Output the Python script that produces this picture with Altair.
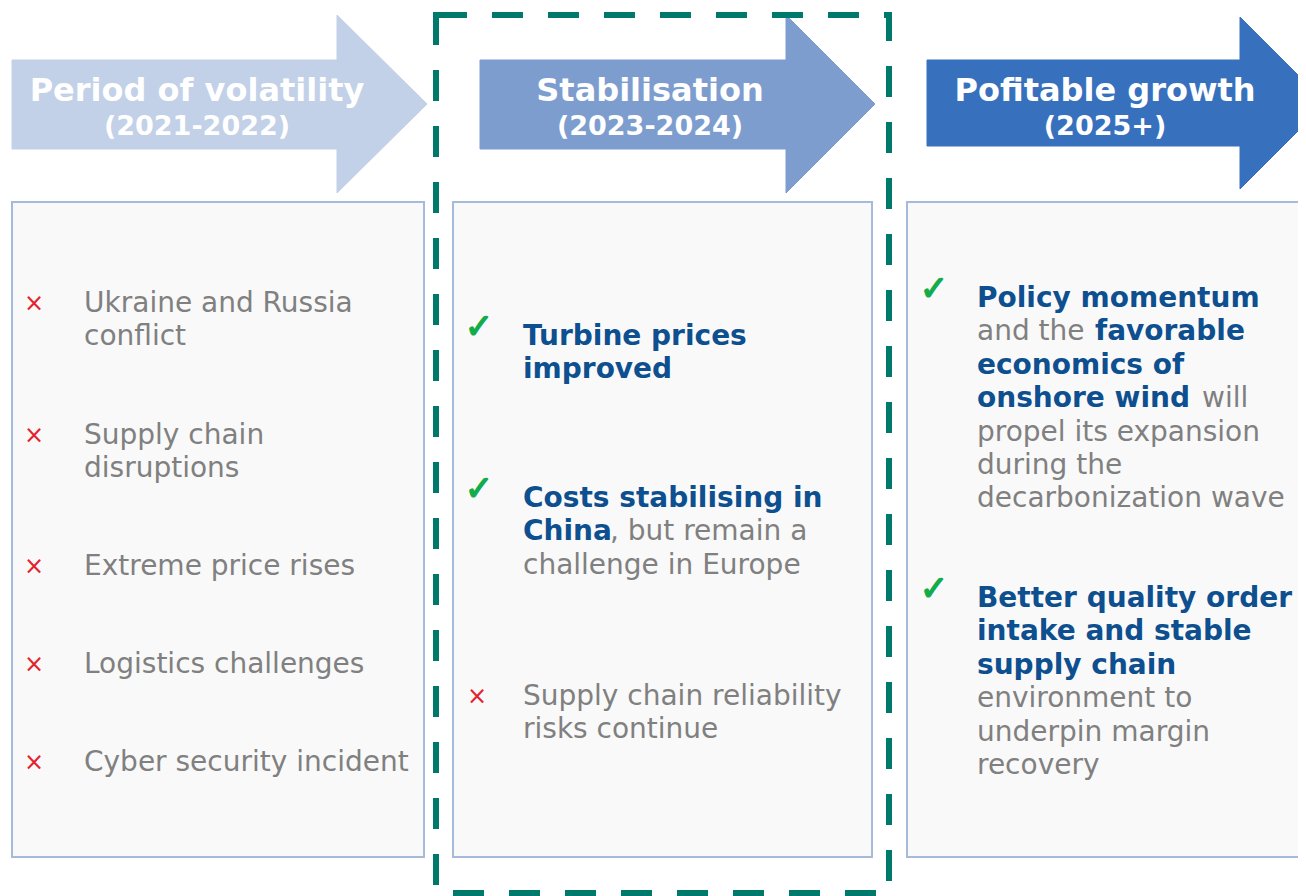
import altair as alt
import pandas as pd

# ---------------- content ----------------
phase_titles = ["Period of volatility", "Stabilisation", "Pofitable growth"]
phase_periods = ["(2021-2022)", "(2023-2024)", "(2025+)"]

# bullets per panel: (marker, lines); marker "x" = risk, "v" = positive
# each line is a list of (text, bold) segments
left_bullets = [
    ("x", [[("Ukraine and Russia", 0)], [("conflict", 0)]]),
    ("x", [[("Supply chain", 0)], [("disruptions", 0)]]),
    ("x", [[("Extreme price rises", 0)]]),
    ("x", [[("Logistics challenges", 0)]]),
    ("x", [[("Cyber security incident", 0)]]),
]
middle_bullets = [
    ("v", [[("Turbine prices", 1)], [("improved", 1)]]),
    ("v", [[("Costs stabilising in", 1)], [("China", 1), (", but remain a", 0)],
           [("challenge in Europe", 0)]]),
    ("x", [[("Supply chain reliability", 0)], [("risks continue", 0)]]),
]
right_bullets = [
    ("v", [[("Policy momentum", 1)], [("and the", 0), ("favorable", 1)],
           [("economics of", 1)], [("onshore wind", 1), ("will", 0)],
           [("propel its expansion", 0)], [("during the", 0)],
           [("decarbonization wave", 0)]]),
    ("v", [[("Better quality order", 1)], [("intake and stable", 1)],
           [("supply chain", 1)], [("environment to", 0)],
           [("underpin margin", 0)], [("recovery", 0)]]),
]
panels = [left_bullets, middle_bullets, right_bullets]

# ---------------- layout & style ----------------
W, H = 1290, 888
OFF = 8
arrow_colors = ["#c2d1e7", "#7d9dcf", "#3771be"]
# shaft_left, head_x, tip_x, shaft_top, shaft_bottom, head_top, head_bottom
arrow_geo = [
    (12, 337, 427, 60, 149, 15, 193),
    (480, 786, 875, 60, 149, 15, 193),
    (927, 1240, 1326, 60, 146, 17, 189),
]
title_x = [197, 650, 1105]
TITLE_Y, PERIOD_Y = 91, 127
box_x = [(12, 424), (453, 872), (907, 1330)]
BOX_Y = (202, 857)
dash_box = (436, 15, 889, 893)
marker_x = [34, 477, 932]
text_x = [84, 523, 977]
bullet_y = [[304, 436, 567, 665, 763], [337, 499, 697], [299, 599]]
LINE_H = 33.4
# x offset of a segment that follows another on the same line
seg_next_dx = {"China": 87, "and the": 118, "onshore wind": 225}
BLUE = "#0d4f8f"
GRAY = "#808080"
RED = "#e3222c"
GREEN = "#13ac4b"
BODY_SIZE = 28
FONT = "DejaVu Sans"

# ---------------- tables ----------------
arrow_dfs = []
for i, (l, hx, tx, st, sb, ht, hb) in enumerate(arrow_geo):
    mid = (ht + hb) / 2
    pts = [(l, st), (hx, st), (hx, ht), (tx, mid), (hx, hb), (hx, sb), (l, sb), (l, st)]
    arrow_dfs.append(pd.DataFrame([{"ord": k, "x": x, "y": y} for k, (x, y) in enumerate(pts)]))

boxes_df = pd.DataFrame([{"x": a, "x2": b, "y": BOX_Y[0], "y2": BOX_Y[1]} for a, b in box_x])
dash_df = pd.DataFrame([{"x": dash_box[0], "y": dash_box[1], "x2": dash_box[2], "y2": dash_box[3]}])

titles_df = pd.DataFrame({"x": title_x, "y": [TITLE_Y] * 3, "text": phase_titles})
periods_df = pd.DataFrame({"x": title_x, "y": [PERIOD_Y] * 3, "text": phase_periods})

seg_rows, marker_rows = [], []
for p, bullets in enumerate(panels):
    for b, (marker, lines) in enumerate(bullets):
        y0 = bullet_y[p][b]
        if marker == "x":
            marker_rows.append({"x": marker_x[p], "y": y0, "text": "×", "color": RED, "kind": "x"})
        else:
            marker_rows.append({"x": marker_x[p] + 2, "y": y0 - 9, "text": "✓", "color": GREEN, "kind": "v"})
        for li, segs in enumerate(lines):
            x = text_x[p]
            for text, bold in segs:
                seg_rows.append({"x": x, "y": y0 + li * LINE_H, "text": text, "bold": bold})
                x = x + seg_next_dx.get(text, 0)
segs_df = pd.DataFrame(seg_rows)
markers_df = pd.DataFrame(marker_rows)

xs = alt.Scale(domain=[OFF, OFF + W], range=[0, W], nice=False, zero=False)
ys = alt.Scale(domain=[OFF, OFF + H], range=[0, H], nice=False, zero=False)
X = lambda f="x": alt.X(f"{f}:Q", scale=xs, axis=None)
Y = lambda f="y": alt.Y(f"{f}:Q", scale=ys, axis=None)

arrows = [
    alt.Chart(df).mark_line(fill=arrow_colors[i], stroke=arrow_colors[i], strokeWidth=1,
                            interpolate="linear").encode(
        x=X(), y=Y(), order="ord:Q"
    )
    for i, df in enumerate(arrow_dfs)
]

boxes = alt.Chart(boxes_df).mark_rect(fill="#f9f9f9", stroke="#a6badc", strokeWidth=2).encode(
    x=X(), x2="x2:Q", y=Y(), y2="y2:Q"
)

dashed = alt.Chart(dash_df).mark_rect(
    filled=False, stroke="#00796d", strokeWidth=6, strokeDash=[31, 25]
).encode(x=X(), x2="x2:Q", y=Y(), y2="y2:Q")

titles = alt.Chart(titles_df).mark_text(
    font=FONT, fontSize=32, fontWeight="bold", color="white", align="center", baseline="middle"
).encode(x=X(), y=Y(), text="text:N")

periods = alt.Chart(periods_df).mark_text(
    font=FONT, fontSize=27, fontWeight="bold", color="white", align="center", baseline="middle"
).encode(x=X(), y=Y(), text="text:N")

bold_text = alt.Chart(segs_df).transform_filter("datum.bold == 1").mark_text(
    font=FONT, fontSize=BODY_SIZE, fontWeight="bold", color=BLUE, align="left", baseline="middle"
).encode(x=X(), y=Y(), text="text:N")

reg_text = alt.Chart(segs_df).transform_filter("datum.bold == 0").mark_text(
    font=FONT, fontSize=BODY_SIZE, color=GRAY, align="left", baseline="middle"
).encode(x=X(), y=Y(), text="text:N")

x_marks = alt.Chart(markers_df).transform_filter("datum.kind == 'x'").mark_text(
    font=FONT, fontSize=24, align="center", baseline="middle"
).encode(x=X(), y=Y(), text="text:N", color=alt.Color("color:N", scale=None))

v_marks = alt.Chart(markers_df).transform_filter("datum.kind == 'v'").mark_text(
    font=FONT, fontSize=34, align="center", baseline="middle", stroke=GREEN, strokeWidth=1.5
).encode(x=X(), y=Y(), text="text:N", color=alt.Color("color:N", scale=None))

chart = alt.layer(
    *arrows, boxes, titles, periods, bold_text, reg_text, x_marks, v_marks, dashed
).properties(
    width=W, height=H, padding=0, autosize="none", background="white"
).configure_view(strokeWidth=0)

chart.save("out.html", embed_options={"renderer": "svg", "actions": False})
